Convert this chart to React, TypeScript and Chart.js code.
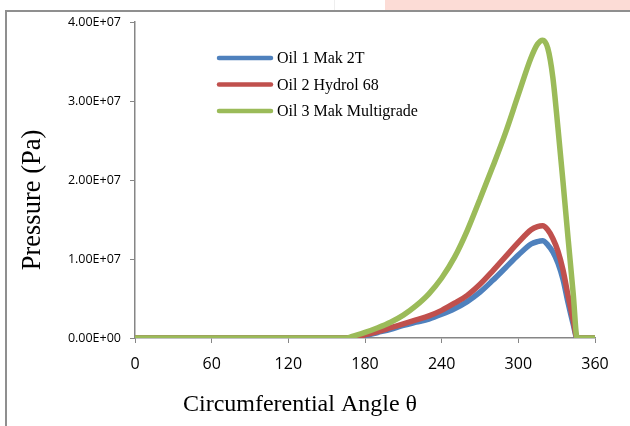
import React, { useEffect, useRef } from "react";
import { Chart, registerables } from "chart.js";

Chart.register(...registerables);

// Circumferential angle (degrees)
const angles = [0, 60, 120, 166, 170, 180, 190, 200, 210, 220, 230, 240, 250, 260, 270, 280, 290, 300, 310, 315, 319, 323, 327, 331, 335, 339, 343, 346, 360];

// Pressure (Pa)
const oil1Mak2T = [0, 0, 0, 0, 0, 0.03e7, 0.07e7, 0.11e7, 0.16e7, 0.2e7, 0.24e7, 0.3e7, 0.37e7, 0.46e7, 0.58e7, 0.73e7, 0.89e7, 1.05e7, 1.19e7, 1.22e7, 1.23e7, 1.18e7, 1.09e7, 0.95e7, 0.74e7, 0.44e7, 0.17e7, 0, 0];
const oil2Hydrol68 = [0, 0, 0, 0, 0, 0.04e7, 0.08e7, 0.13e7, 0.18e7, 0.23e7, 0.28e7, 0.35e7, 0.44e7, 0.54e7, 0.68e7, 0.85e7, 1.03e7, 1.21e7, 1.37e7, 1.41e7, 1.42e7, 1.37e7, 1.26e7, 1.1e7, 0.86e7, 0.53e7, 0.22e7, 0, 0];
const oil3MakMultigrade = [0, 0, 0, 0, 0.02e7, 0.07e7, 0.13e7, 0.2e7, 0.29e7, 0.41e7, 0.56e7, 0.76e7, 1.02e7, 1.36e7, 1.76e7, 2.17e7, 2.6e7, 3.08e7, 3.55e7, 3.72e7, 3.77e7, 3.67e7, 3.3e7, 2.66e7, 1.97e7, 1.25e7, 0.55e7, 0, 0];

const seriesNames = ["Oil 1 Mak 2T", "Oil 2 Hydrol 68", "Oil 3 Mak Multigrade"];
const seriesColors = ["#4F81BD", "#C0504D", "#9BBB59"];

const xTitle = "Circumferential Angle θ";
const yTitle = "Pressure (Pa)";

function sci(v: number): string {
  if (v === 0) return "0.00E+00";
  const e = Math.floor(Math.log10(Math.abs(v)) + 1e-9);
  const m = v / Math.pow(10, e);
  return m.toFixed(2) + "E" + (e < 0 ? "-" : "+") + String(Math.abs(e)).padStart(2, "0");
}

const overlayPlugin = {
  id: "overlay",
  afterDraw(chart: any) {
    const ctx = chart.ctx as CanvasRenderingContext2D;
    const area = chart.chartArea;
    ctx.save();
    ctx.fillStyle = "#000";
    ctx.textAlign = "center";
    ctx.textBaseline = "middle";
    ctx.font = '24px "Liberation Serif"';
    ctx.fillText(xTitle, 300, 405);
    ctx.save();
    ctx.translate(33, 200);
    ctx.rotate(-Math.PI / 2);
    ctx.font = '26.5px "Liberation Serif"';
    ctx.fillText(yTitle, 0, 0);
    ctx.restore();

    // legend
    const lx = area.left + 84;
    const ly = area.top + 36;
    ctx.font = '16px "Liberation Serif"';
    ctx.textAlign = "left";
    ctx.lineCap = "round";
    seriesNames.forEach((name, i) => {
      const y = ly + i * 26.5;
      ctx.strokeStyle = seriesColors[i];
      ctx.lineWidth = 4.5;
      ctx.beginPath();
      ctx.moveTo(lx, y);
      ctx.lineTo(lx + 52, y);
      ctx.stroke();
      ctx.fillStyle = "#000";
      ctx.fillText(name, lx + 58, y + 1);
    });
    ctx.restore();
  },
};

export default function App() {
  const canvasRef = useRef<HTMLCanvasElement | null>(null);

  useEffect(() => {
    const canvas = canvasRef.current;
    if (!canvas) return;
    const values = [oil1Mak2T, oil2Hydrol68, oil3MakMultigrade];
    const chart = new Chart(canvas, {
      type: "line",
      data: {
        datasets: values.map((vals, i) => ({
          label: seriesNames[i],
          data: angles.map((a, j) => ({ x: a, y: vals[j] })),
          borderColor: seriesColors[i],
          backgroundColor: seriesColors[i],
          borderWidth: 5.5,
          pointRadius: 0,
          cubicInterpolationMode: "monotone" as const,
          borderJoinStyle: "round" as const,
          fill: false,
          order: 3 - i,
        })),
      },
      options: {
        animation: false,
        responsive: false,
        devicePixelRatio: 1,
        layout: { padding: { left: 0, top: 22, right: 35, bottom: 0 } },
        plugins: { legend: { display: false }, tooltip: { enabled: false } },
        scales: {
          x: {
            type: "linear",
            min: 0,
            max: 360,
            ticks: {
              stepSize: 60,
              color: "#000",
              font: { family: "Open Sans", size: 16 },
              padding: 12,
            },
            grid: { drawOnChartArea: false, tickLength: 5, color: "#868686" },
            border: { color: "#868686", width: 1.5 },
            afterFit(scale: any) {
              scale.height = 88;
            },
          },
          y: {
            type: "linear",
            min: 0,
            max: 4e7,
            ticks: {
              stepSize: 1e7,
              color: "#000",
              font: { family: "Open Sans", size: 12.5 },
              padding: 9,
              callback: (v: any) => sci(Number(v)),
            },
            grid: { drawOnChartArea: false, tickLength: 5, color: "#868686" },
            border: { color: "#868686", width: 1.5 },
            afterFit(scale: any) {
              scale.width = 135;
            },
          },
        },
      },
      plugins: [overlayPlugin],
    });
    return () => chart.destroy();
  }, []);

  return (
    <div style={{ position: "fixed", left: 0, top: 0, width: 630, height: 426, background: "#fff", overflow: "hidden" }}>
      <div style={{ position: "absolute", left: 385, top: 0, width: 245, height: 10, background: "#fcdcd6" }} />
      <div style={{ position: "absolute", left: 334, top: 0, width: 1, height: 10, background: "#eeeeee" }} />
      <div
        style={{
          position: "absolute",
          left: 5,
          top: 10,
          width: 640,
          height: 430,
          borderLeft: "2px solid #8f8f8f",
          borderTop: "2px solid #8f8f8f",
          boxSizing: "border-box",
        }}
      />
      <canvas ref={canvasRef} width={630} height={426} style={{ position: "absolute", left: 0, top: 0 }} />
    </div>
  );
}
